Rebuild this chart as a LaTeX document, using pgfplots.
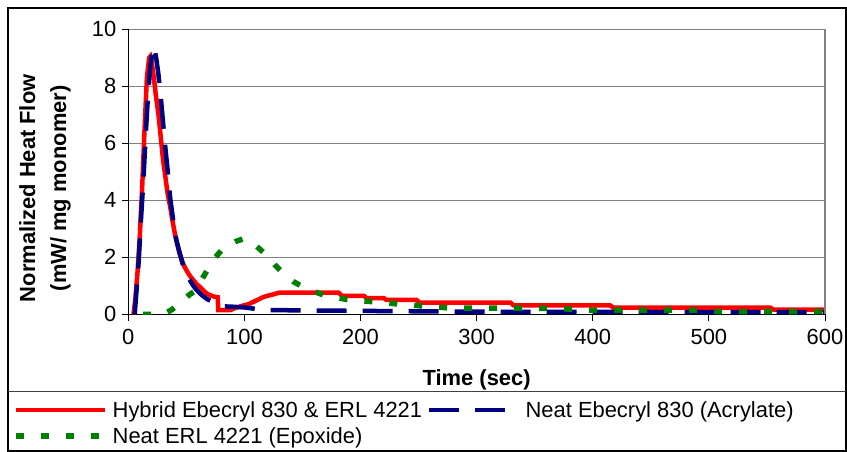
\documentclass[border=0pt]{standalone}
\usepackage{fontspec}
\setmainfont{Liberation Sans}
\usepackage{pgfplots}
\pgfplotsset{compat=1.18}
\definecolor{serred}{RGB}{255,0,0}
\definecolor{sernavy}{RGB}{0,0,128}
\definecolor{sergreen}{RGB}{0,128,0}
\begin{document}
\begin{tikzpicture}
\useasboundingbox (-128.3bp,-137.7bp) rectangle (718.7bp,314.3bp);
\begin{axis}[
  at={(0,0)}, anchor=south west,
  scale only axis, width=696.7bp, height=285bp,
  xmin=0, xmax=600, ymin=0, ymax=10,
  xtick={0,100,...,600}, ytick={0,2,...,10},
  axis x line*=bottom, axis y line*=left,
  axis line style={line width=1.3bp, black},
  tick align=outside, major tick length=6.5bp,
  tick style={line width=1bp, black},
  ymajorgrids, grid style={line width=1.5bp, black!50},
  tick label style={font=\fontsize{22}{26}\selectfont},
  /pgf/number format/assume math mode=true,
  xticklabel style={yshift=-5bp},
  yticklabel style={xshift=-2bp},
  xlabel={Time (sec)},
  xlabel style={font=\bfseries\fontsize{22}{26}\selectfont, at={(axis description cs:0.5,-0.249)}, anchor=base},
  ylabel={Normalized Heat Flow\\(mW/ mg monomer)},
  ylabel style={font=\bfseries\fontsize{22}{31}\selectfont, align=center, at={(axis description cs:-0.1195,0.442)}, anchor=center},
  legend columns=2,
  legend cell align=left,
  legend image code/.code={\draw[#1] (0bp,0bp) -- (89bp,0bp);},
  legend style={draw=none, fill=none, at={(axis description cs:-0.1655,-0.3814)}, anchor=west,
    font=\fontsize{22}{26}\selectfont, inner sep=0pt, row sep=7bp, column sep=4bp,
    nodes={inner sep=1bp}},
  after end axis/.code={\draw[line width=1.5bp, black!50] (rel axis cs:1,0) -- (rel axis cs:1,1);},
]
\addplot[serred, line width=4.5bp] coordinates {
(4.5,0) (6,0.5) (8,1.5) (10,2.8) (12,4.5) (14,6.5) (16,8.3) (18,9.0) (19,9.05) (20,8.9)
(22,8.3) (24,7.6) (26,7.0) (28,6.2) (30,5.4) (32,4.8) (34,4.2) (36,3.8) (38,3.3) (40,2.85)
(42,2.5) (44,2.15) (46,1.9) (48,1.7) (50,1.55) (53,1.35) (56,1.2) (59,1.05) (62,0.95)
(65,0.82) (68,0.72) (71,0.66) (74,0.62) (77,0.6) (77.5,0.15) (88,0.15) (92,0.22) (100,0.32)
(104,0.36) (108,0.44) (112,0.52) (116,0.6) (120,0.65) (125,0.7) (130,0.76) (181,0.76)
(184,0.65) (203,0.65) (205,0.57) (220,0.57) (222,0.51) (248,0.51) (251,0.41) (329,0.41)
(332,0.31) (415,0.31) (418,0.23) (553,0.23) (556,0.16) (600,0.16)
};
\addlegendentry{Hybrid Ebecryl 830 \& ERL 4221}
\addplot[sernavy, line width=4.5bp, dash pattern=on 30bp off 16bp] coordinates {
(5.5,0) (7,0.8) (9,1.9) (11,3.4) (13,4.7) (15,6.3) (17,7.7) (19,8.7) (21,9.35) (22,9.4)
(24,9.0) (26,8.4) (28,7.6) (30,6.7) (32,5.8) (34,5.0) (36,4.1) (38,3.5) (40,2.85) (42,2.5)
(44,2.2) (46,1.9) (48,1.6) (50,1.4) (53,1.2) (56,1.0) (59,0.85) (62,0.72) (65,0.62)
(68,0.53) (71,0.47) (74,0.42) (76,0.38) (80,0.28) (88,0.27) (100,0.24) (108,0.2)
(115,0.15) (200,0.12) (300,0.09) (600,0.07)
};
\addlegendentry{Neat Ebecryl 830 (Acrylate)}
\addplot[sergreen, line width=5.5bp, dash pattern=on 8bp off 17bp] coordinates {
(12.7,0) (30,0) (37,0.15) (45,0.4) (53,0.7) (59,0.85) (63,1.2) (68,1.55) (75,2.0) (83,2.37)
(92,2.55) (100,2.66) (110,2.4) (119,2.08) (127,1.7) (135,1.38) (142,1.15) (150,0.97)
(160,0.8) (168,0.68) (188,0.52) (211,0.44) (233,0.36) (254,0.29) (277,0.22) (366,0.21)
(395,0.15) (486,0.15) (510,0.09) (600,0.09)
};
\addlegendentry{Neat ERL 4221 (Epoxide)}
\end{axis}
\draw[line width=1.5bp] (-120.3bp,306.3bp) rectangle (717.7bp,-136.9bp);
\draw[line width=1.2bp, black!75] (-120.3bp,-77.4bp) -- (717.7bp,-77.4bp);
\end{tikzpicture}
\end{document}
